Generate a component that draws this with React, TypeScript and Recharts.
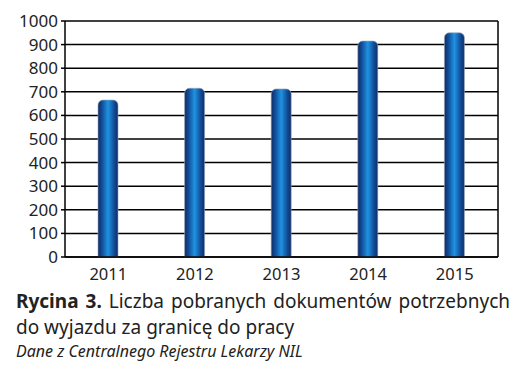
import { BarChart, Bar, XAxis, YAxis, CartesianGrid } from 'recharts'

const years = ['2011', '2012', '2013', '2014', '2015']
const documents = [665, 715, 712, 915, 950]
const yTicks = [0, 100, 200, 300, 400, 500, 600, 700, 800, 900, 1000]

const chartData = years.map((year, i) => ({ year, value: documents[i] }))

const FONT = '"Noto Sans", "Open Sans", sans-serif'

export default function App() {
  return (
    <div style={{ position: 'relative', width: 532, height: 390, margin: -8, background: '#fff', fontFamily: FONT }}>
      <BarChart width={532} height={285} data={chartData} margin={{ top: 21, right: 33, left: 0, bottom: 0 }} barSize={20}>
        <defs>
          <linearGradient id="barGrad" x1="0" y1="0" x2="1" y2="0">
            <stop offset="0%" stopColor="#0c2c66" />
            <stop offset="20%" stopColor="#124d98" />
            <stop offset="50%" stopColor="#1f93e2" />
            <stop offset="80%" stopColor="#124d98" />
            <stop offset="100%" stopColor="#0c2c66" />
          </linearGradient>
        </defs>
        <CartesianGrid vertical={false} stroke="#000" strokeWidth={1.5} />
        <XAxis
          dataKey="year"
          axisLine={{ stroke: '#000', strokeWidth: 1.5 }}
          tickLine={false}
          height={28}
          tick={{ fill: '#222', fontSize: 16.5, fontFamily: FONT }}
          tickMargin={5}
        />
        <YAxis
          domain={[0, 1000]}
          ticks={yTicks}
          interval={0}
          width={65}
          axisLine={{ stroke: '#000', strokeWidth: 1.5 }}
          tickLine={{ stroke: '#000', strokeWidth: 1.5 }}
          tickSize={4}
          tick={{ fill: '#222', fontSize: 17, fontFamily: FONT }}
          tickMargin={3}
        />
        <YAxis
          yAxisId="right"
          orientation="right"
          width={1}
          axisLine={{ stroke: '#000', strokeWidth: 1.5 }}
          tick={false}
          tickLine={false}
        />
        <Bar
          dataKey="value"
          fill="url(#barGrad)"
          stroke="#9aa6b8"
          strokeWidth={0.6}
          radius={[5, 5, 0, 0]}
          isAnimationActive={false}
        />
      </BarChart>
      <div style={{ position: 'absolute', left: 16, top: 288, width: 494, fontSize: 19, lineHeight: '26px', color: '#222' }}>
        <div style={{ textAlign: 'justify', textAlignLast: 'justify' }}>
          <span style={{ fontWeight: 700 }}>Rycina 3.</span> Liczba pobranych dokumentów potrzebnych
        </div>
        <div>do wyjazdu za granicę do pracy</div>
      </div>
      <div style={{ position: 'absolute', left: 16, top: 340, fontSize: 16, fontStyle: 'italic', color: '#222' }}>
        Dane z Centralnego Rejestru Lekarzy NIL
      </div>
    </div>
  )
}
